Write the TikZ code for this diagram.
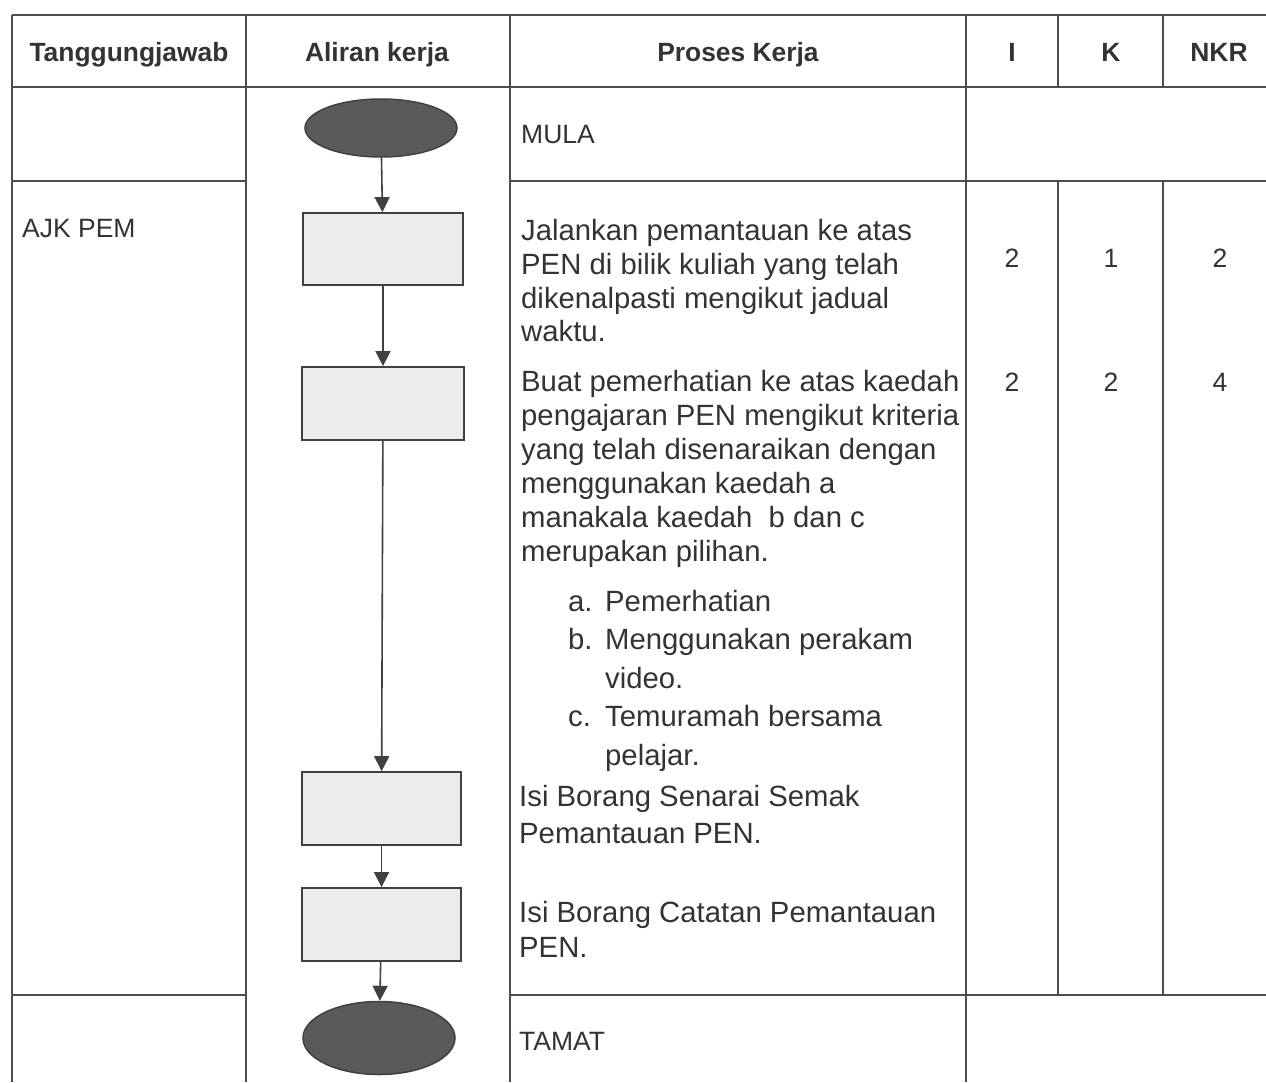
\documentclass[tikz,border=0pt]{standalone}
\usepackage{fontspec}
\setmainfont{Liberation Sans}
\usepackage{xcolor}
\usetikzlibrary{arrows.meta, positioning, calc, shapes.geometric}
\definecolor{linegray}{HTML}{4D4D4D}
\definecolor{inkgray}{HTML}{333333}
\definecolor{boxgray}{HTML}{ECECEC}
\definecolor{endgray}{HTML}{5A5A5A}

\begin{document}
\begin{tikzpicture}[
    x=1pt, y=-1pt,
    tableline/.style={draw=linegray, line width=1.6pt},
    head/.style={anchor=base, font=\fontsize{26.4}{30}\selectfont\bfseries, text=inkgray, inner sep=0},
    celltext/.style={anchor=base west, font=\fontsize{26.5}{30}\selectfont, text=inkgray, inner sep=0},
    body/.style={anchor=north west, align=left, font=\fontsize{29.3}{33.8}\selectfont, text=inkgray, inner sep=0},
    score/.style={anchor=base, font=\fontsize{26.5}{30}\selectfont, text=inkgray, inner sep=0},
    terminal/.style={ellipse, draw=black!75, line width=1.5pt, fill=endgray, inner sep=0, minimum width=152pt},
    process/.style={rectangle, draw=black!75, line width=1.8pt, fill=boxgray, inner sep=0, minimum height=72pt},
    arrow/.style={-{Triangle[width=15pt,length=15pt]}, line width=1.6pt, draw=black!75}
]
\useasboundingbox (0,0) rectangle (1266,1082);

% Table rules
\draw[tableline] (12,15) -- (1266,15);
\draw[tableline] (12,87) -- (1266,87);
\draw[tableline] (12,181) -- (246,181) (510,181) -- (1266,181);
\draw[tableline] (12,995) -- (246,995) (510,995) -- (1266,995);
\draw[tableline] (12,15) -- (12,1082) (246,15) -- (246,1082) (510,15) -- (510,1082) (966,15) -- (966,1082);
\draw[tableline] (1058,15) -- (1058,87) (1058,181) -- (1058,995);
\draw[tableline] (1163,15) -- (1163,87) (1163,181) -- (1163,995);

% Header
\node[head] (h-resp) at (129,61) {Tanggungjawab};
\node[head] (h-flow) at (377,61) {Aliran kerja};
\node[head] (h-proc) at (738,61) {Proses Kerja};
\node[head] (h-i) at (1012,61) {I};
\node[head] (h-k) at (1111,61) {K};
\node[head] (h-nkr) at (1219,61) {NKR};

% Flow
\node[terminal, minimum height=58pt] (start) at (381,128) {};
\node[process, minimum width=160pt] (monitor) at (383,249) {};
\node[process, minimum width=162pt, minimum height=73pt] (observe) at (383,403.5) {};
\node[process, minimum width=159pt, minimum height=73pt] (checklist) at (381.5,808.5) {};
\node[process, minimum width=159pt, minimum height=73pt] (record) at (381.5,924.5) {};
\node[terminal, minimum height=73pt] (end) at (379,1038) {};

\draw[arrow] (start) -- (monitor);
\draw[arrow] (monitor) -- (observe);
\draw[arrow] (observe) -- (checklist);
\draw[arrow] (checklist) -- (record);
\draw[arrow] (record) -- (end);

% Responsibility
\node[celltext] (ajk) at (22,237) {AJK PEM};

% Work process
\node[celltext] (mula) at (521,143) {MULA};
\node[body] (p-monitor) at (521,219) {Jalankan pemantauan ke atas\\PEN di bilik kuliah yang telah\\dikenalpasti mengikut jadual\\waktu.};
\node[body, font=\fontsize{29.3}{34}\selectfont] (p-observe) at (521,370) {Buat pemerhatian ke atas kaedah\\pengajaran PEN mengikut kriteria\\yang telah disenaraikan dengan\\menggunakan kaedah a\\manakala kaedah\ \ b dan c\\merupakan pilihan.};
\node[body, font=\fontsize{29.3}{38.5}\selectfont] (p-methods) at (568,590) {\makebox[37pt][l]{a.}Pemerhatian\\\makebox[37pt][l]{b.}Menggunakan perakam\\\hspace*{37pt}video.\\\makebox[37pt][l]{c.}Temuramah bersama\\\hspace*{37pt}pelajar.};
\node[body, font=\fontsize{29.3}{37}\selectfont] (p-checklist) at (519,785) {Isi Borang Senarai Semak\\Pemantauan PEN.};
\node[body, font=\fontsize{29.3}{35}\selectfont] (p-record) at (519,901) {Isi Borang Catatan Pemantauan\\PEN.};
\node[celltext] (tamat) at (519,1050) {TAMAT};

% Scores
\node[score] (i-1) at (1012,267) {2};
\node[score] (k-1) at (1111,267) {1};
\node[score] (nkr-1) at (1220,267) {2};
\node[score] (i-2) at (1012,391) {2};
\node[score] (k-2) at (1111,391) {2};
\node[score] (nkr-2) at (1220,391) {4};

\end{tikzpicture}
\end{document}
